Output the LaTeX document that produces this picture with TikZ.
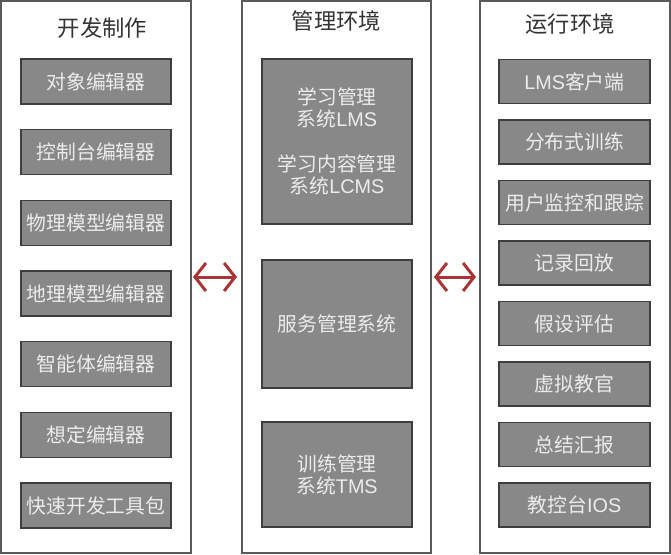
\documentclass[tikz,border=0pt]{standalone}
\usepackage{fontspec}
\setmainfont{Noto Sans CJK SC}
\newfontfamily\latf{Liberation Sans}
\usetikzlibrary{arrows.meta,calc}
\definecolor{colborder}{HTML}{5A5A5A}
\definecolor{boxborder}{HTML}{3E3E3E}
\definecolor{boxfill}{HTML}{888888}
\definecolor{boxtext}{HTML}{ECECEC}
\definecolor{titletext}{HTML}{333333}
\definecolor{arrowred}{HTML}{A83434}
\begin{document}
\begin{tikzpicture}[x=1pt,y=-1pt,
  col/.style={draw=colborder, line width=1.3pt, fill=white, inner sep=0pt, outer sep=0pt, minimum height=552pt},
  box/.style={draw=boxborder, line width=1.5pt, fill=boxfill, text=boxtext, font=\fontsize{19.8}{22}\selectfont, inner sep=0pt, outer sep=0pt, align=center},
  lbox/.style={box, minimum width=150pt, minimum height=45pt},
  rbox/.style={box, minimum width=151pt, minimum height=44pt},
  mbox/.style={box, minimum width=150pt},
  title/.style={text=titletext, font=\fontsize{22.3}{24}\selectfont, inner sep=0pt},
  biarrow/.style={draw=arrowred, line width=3pt, {Straight Barb[length=11pt,width=28pt]}-{Straight Barb[length=11pt,width=28pt]}}
]
\useasboundingbox (0,0) rectangle (671,554);
% columns
\node[col, minimum width=190pt] (L) at (96,277) {};
\node[col, minimum width=189pt] (M) at (336.5,277) {};
\node[col, minimum width=190pt] (R) at (575,277) {};
% titles
\node[title] (tL) at (102.5,28) {开发制作};
\node[title] (tM) at (336.5,21) {管理环境};
\node[title] (tR) at (570,24) {运行环境};
% left boxes
\node[lbox] (l1) at (96,81.5) {对象编辑器};
\node[lbox] (l2) at (96,152.2) {控制台编辑器};
\node[lbox] (l3) at (96,222.8) {物理模型编辑器};
\node[lbox] (l4) at (96,293.5) {地理模型编辑器};
\node[lbox] (l5) at (96,364.2) {智能体编辑器};
\node[lbox] (l6) at (96,434.8) {想定编辑器};
\node[lbox] (l7) at (96,505.5) {快速开发工具包};
% middle boxes
\node[mbox, minimum height=165pt] (m1) at (337,141.5) {学习管理\\系统{\latf LMS}\\[23pt]学习内容管理\\系统{\latf LCMS}};
\node[mbox, minimum height=128pt] (m2) at (337,324) {服务管理系统};
\node[mbox, minimum height=105pt] (m3) at (337,474.5) {训练管理\\系统{\latf TMS}};
% right boxes
\node[rbox] (r1) at (574.5,81.5) {{\latf LMS}客户端};
\node[rbox] (r2) at (574.5,142) {分布式训练};
\node[rbox] (r3) at (574.5,202.5) {用户监控和跟踪};
\node[rbox] (r4) at (574.5,263) {记录回放};
\node[rbox] (r5) at (574.5,323.5) {假设评估};
\node[rbox] (r6) at (574.5,384) {虚拟教官};
\node[rbox] (r7) at (574.5,444.5) {总结汇报};
\node[rbox] (r8) at (574.5,505) {教控台{\latf IOS}};
% arrows
\draw[biarrow] ($(L.east)+(2,0)$) -- ($(M.west)+(-5,0)$);
\draw[biarrow] ($(M.east)+(3,0)$) -- ($(R.west)+(-4,0)$);
\end{tikzpicture}
\end{document}
